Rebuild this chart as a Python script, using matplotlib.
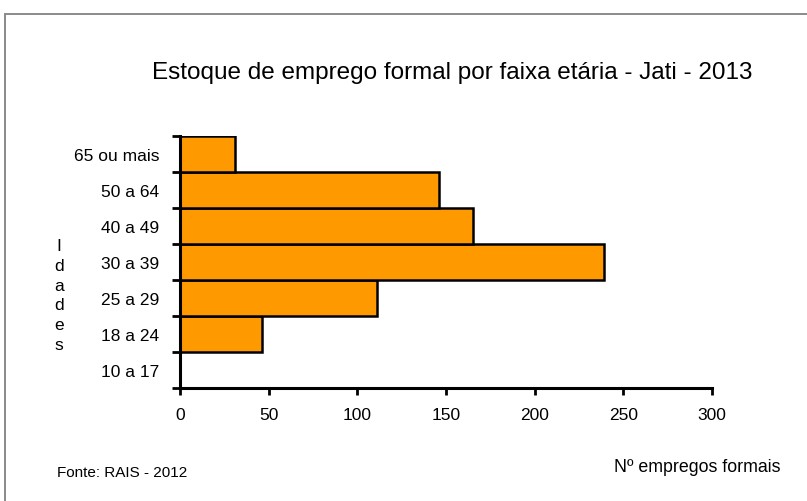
import numpy as np
import matplotlib
matplotlib.use("Agg")
import matplotlib.pyplot as plt
import matplotlib.patches as patches

plt.rcParams['font.family'] = ['Liberation Sans', 'DejaVu Sans']

# dati
faixas = ['10 a 17', '18 a 24', '25 a 29', '30 a 39', '40 a 49', '50 a 64', '65 ou mais']
empregos = [0, 46, 111, 239, 165, 146, 31]
x_ticks = [0, 50, 100, 150, 200, 250, 300]

titulo = 'Estoque de emprego formal por faixa etária - Jati - 2013'
rotulo_y = 'Idades'
rotulo_x = 'Nº empregos formais'
fonte = 'Fonte: RAIS - 2012'

W, H = 807, 502
fig = plt.figure(figsize=(W / 100, H / 100), dpi=100)

# cornice grigia (esce dal bordo a destra e in basso)
border = patches.Rectangle((5 / W, -0.05), 1.1, 1 - 15 / H + 0.05,
                           transform=fig.transFigure, fill=False,
                           edgecolor='#8a8a8a', linewidth=1.4, clip_on=False)
fig.patches.append(border)

ax = fig.add_axes([180 / W, 1 - 389 / H, (712 - 180) / W, (389 - 137) / H])

pos = np.arange(len(faixas)) + 0.5
ax.barh(pos, empregos, height=1.0, color='#FF9900', edgecolor='black',
        linewidth=1.8, zorder=2)

ax.set_xlim(0, 300)
ax.set_ylim(0, len(faixas))

ax.set_xticks(x_ticks)
ax.set_xticklabels([str(v) for v in x_ticks], fontsize=12.5)
ax.set_yticks(np.arange(len(faixas) + 1))
ax.set_yticklabels([])
ax.set_yticks(pos, minor=True)
ax.set_yticklabels(faixas, minor=True, fontsize=12.5)

ax.tick_params(axis='y', which='major', direction='out', length=6, width=2)
ax.tick_params(axis='y', which='minor', length=0, pad=15)
ax.tick_params(axis='x', direction='out', length=5, width=2, pad=9)

for s in ['top', 'right']:
    ax.spines[s].set_visible(False)
for s in ['left', 'bottom']:
    ax.spines[s].set_linewidth(2.2)
    ax.spines[s].set_zorder(3)

fig.text(452 / W, 1 - 73 / H, titulo, ha='center', va='center', fontsize=17.5)
fig.text(59 / W, 1 - 296 / H, '\n'.join(rotulo_y), ha='center', va='center',
         fontsize=12.5, linespacing=1.4)
fig.text(697 / W, 1 - 468 / H, rotulo_x, ha='center', va='center', fontsize=12.8)
fig.text(57 / W, 1 - 473 / H, fonte, ha='left', va='center', fontsize=11)

fig.savefig('out.png', dpi=100)
